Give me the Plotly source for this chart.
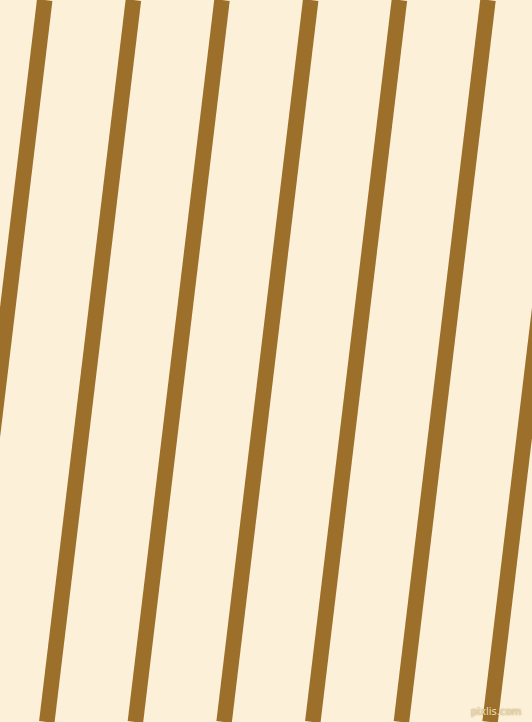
import plotly.graph_objects as go

# Stripe centre positions (px) where each stripe crosses the top (y=0) and bottom (y=722) edges
stripe_top_x = [44.7, 133.4, 222.0, 310.7, 399.4, 488.0, 576.7]
stripe_bottom_x = [-41.9, 46.8, 135.4, 224.1, 312.8, 401.4, 490.1]
edge_y = [0, 722]

bg_color = "#FCF0D8"
stripe_color = "#9C6F2A"

fig = go.Figure()
for xt, xb in zip(stripe_top_x, stripe_bottom_x):
    fig.add_trace(go.Scatter(
        x=[xt, xb], y=edge_y, mode="lines",
        line=dict(color=stripe_color, width=15.5),
        hoverinfo="skip", showlegend=False,
    ))

fig.add_annotation(
    x=523, y=711, xref="x", yref="y", text="pixlis.com", showarrow=False,
    xanchor="right", yanchor="middle",
    font=dict(family="DejaVu Sans", size=10, color="#F1E0B8",
              shadow="0px 0px 1.5px #8A6A35"),
)

fig.update_layout(
    width=532, height=722, autosize=False,
    margin=dict(l=0, r=0, t=0, b=0, pad=0),
    paper_bgcolor=bg_color, plot_bgcolor=bg_color,
    xaxis=dict(range=[0, 532], visible=False, fixedrange=True),
    yaxis=dict(range=[722, 0], visible=False, fixedrange=True),
)

fig.write_html(
    "out.html",
    config={"displayModeBar": False},
    post_script="document.body.style.margin='0';document.body.style.overflow='hidden';",
)
